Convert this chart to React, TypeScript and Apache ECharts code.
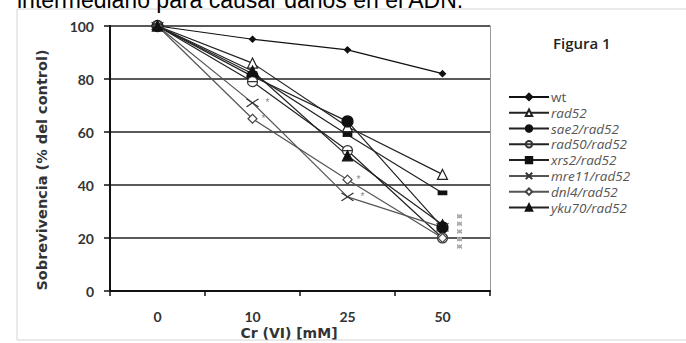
import React, { useEffect, useRef } from "react";
import * as echarts from "echarts";

const categories = ["0", "10", "25", "50"];
const wt = [100, 95, 91, 82];
const rad52 = [100, 86, 62, 44];
const sae2 = [100, 81, 64, 24];
const rad50 = [100, 79, 53, 20];
const xrs2 = [100, 82, 59, 37];
const mre11 = [100, 71, 35.5, 24];
const dnl4 = [100, 65, 42, 20];
const yku70 = [100, 83, 51, 25];
const yTicks = [0, 20, 40, 60, 80, 100];

const FONT = "Lato, 'Open Sans', sans-serif";
const WIDE = "'DejaVu Sans', sans-serif";

function starColumnPath(n: number) {
  let d = "";
  for (let k = 0; k < n; k++) {
    const y = k * 8;
    d += `M3,${y}L3,${y + 6}M0,${y + 1.5}L6,${y + 4.5}M6,${y + 1.5}L0,${y + 4.5}`;
  }
  return "path://" + d;
}

export default function App() {
  const ref = useRef<HTMLDivElement>(null);
  useEffect(() => {
    if (!ref.current) return;
    const chart = echarts.init(ref.current, null, { renderer: "svg" });
    const star = (v: number) => ({
      value: v,
      label: { show: true, formatter: "*", position: "right", distance: 4, color: "#888", fontSize: 10 },
    });
    const lineBase = (name: string, data: any[], symbol: string, size: any, color: string, fill: string, lineColor = "#222") => ({
      name,
      type: "line",
      data,
      symbol,
      symbolSize: size,
      itemStyle: { color: fill, borderColor: color, borderWidth: 1.2 },
      lineStyle: { color: lineColor, width: 1.2 },
      emphasis: { disabled: true },
      z: 3,
    });
    const series: any[] = [
      lineBase("wt", wt, "diamond", 6, "#111", "#111", "#111"),
      lineBase("rad52", rad52, "triangle", 10, "#222", "#fff"),
      lineBase("sae2/rad52", sae2, "circle", 11, "#111", "#111"),
      lineBase(
        "rad50/rad52",
        rad50,
        "path://M0,5A5,5 0 1 1 10,5A5,5 0 1 1 0,5ZM0,5L10,5",
        10,
        "#333",
        "#fff"
      ),
      lineBase("xrs2/rad52", xrs2, "rect", [8, 4], "#111", "#111"),
      {
        ...lineBase(
          "mre11/rad52",
          mre11.map((v, i) => (i === 1 || i === 2 ? star(v) : v)),
          "path://M0,0L10,10M10,0L0,10",
          [12, 8],
          "#333",
          "none",
          "#555"
        ),
        markPoint: {
          silent: true,
          symbol: starColumnPath(5),
          symbolSize: [5, 36],
          symbolOffset: [17, 4],
          itemStyle: { color: "none", borderColor: "#aaa", borderWidth: 0.8 },
          label: { show: false },
          data: [{ coord: [categories[3], mre11[3]] }],
        },
      },
      lineBase(
        "dnl4/rad52",
        dnl4.map((v, i) => (i === 1 || i === 2 ? star(v) : v)),
        "diamond",
        9,
        "#444",
        "#fff",
        "#555"
      ),
      lineBase("yku70/rad52", yku70, "triangle", 10, "#111", "#111"),
    ];
    const legendNames = series.map((s) => s.name);
    chart.setOption({
      animation: false,
      grid: { left: 110, right: 196, top: 26, bottom: 52 },
      graphic: [
        {
          type: "rect",
          shape: { x: 17, y: 9, width: 700, height: 331 },
          style: { fill: "none", stroke: "#d4d4d4", lineWidth: 1 },
          silent: true,
          z: -1,
        },
        {
          type: "text",
          x: 17,
          y: 11,
          style: {
            text: "intermediario para causar daños en el ADN.",
            font: "23px 'Liberation Sans', Arial, sans-serif",
            fill: "#000",
            verticalAlign: "bottom",
          },
        },
        {
          type: "text",
          x: 553,
          y: 35,
          style: { text: "Figura 1", font: "600 15px 'Open Sans', sans-serif", fill: "#222" },
        },
        {
          type: "text",
          x: 42,
          y: 170,
          rotation: Math.PI / 2,
          style: {
            text: "Sobrevivencia (% del control)",
            font: "bold 14.5px " + WIDE,
            fill: "#333",
            align: "center",
            verticalAlign: "middle",
          },
        },
        {
          type: "text",
          x: 289,
          y: 333,
          style: {
            text: "Cr (VI) [mM]",
            font: "bold 14px " + WIDE,
            fill: "#333",
            align: "center",
            verticalAlign: "middle",
          },
        },
      ],
      legend: {
        orient: "vertical",
        left: 503,
        top: 84,
        itemWidth: 40,
        itemHeight: 8,
        itemGap: 0,
        selectedMode: false,
        data: legendNames.map((n, i) => ({
          name: n,
          textStyle: { fontStyle: i === 0 ? "normal" : "italic" },
        })),
        textStyle: {
          fontFamily: "'Open Sans', sans-serif",
          fontSize: 13.5,
          lineHeight: 15.8,
          color: "#555",
          padding: [0, 0, 0, -3],
        },
      },
      xAxis: {
        type: "category",
        data: categories,
        boundaryGap: true,
        axisLine: { lineStyle: { color: "#111", width: 2 } },
        axisTick: { show: true, length: 5, lineStyle: { color: "#111", width: 1.5 } },
        axisLabel: { fontFamily: FONT, fontSize: 14, fontWeight: "bold", color: "#333", margin: 18 },
        splitLine: { show: false },
      },
      yAxis: [
        {
          type: "value",
          min: 0,
          max: 100,
          interval: 20,
          axisLine: { show: true, lineStyle: { color: "#111", width: 2 } },
          axisTick: { show: true, length: 6, lineStyle: { color: "#111", width: 1.5 } },
          axisLabel: {
            fontFamily: FONT,
            fontSize: 14,
            fontWeight: "bold",
            color: "#333",
            margin: 16,
            formatter: (v: number) => (yTicks.includes(v) ? String(v) : ""),
          },
          splitLine: { show: true, lineStyle: { color: "#222", width: 1.5 } },
        },
        {
          type: "value",
          min: 0,
          max: 100,
          interval: 20,
          position: "right",
          axisLine: { show: true, lineStyle: { color: "#999", width: 1 } },
          axisTick: { show: false },
          axisLabel: { show: false },
          splitLine: { show: false },
        },
      ],
      series,
    });
    return () => chart.dispose();
  }, []);
  return <div ref={ref} style={{ width: 686, height: 343, position: "fixed", left: 0, top: 0, background: "#fff" }} />;
}
